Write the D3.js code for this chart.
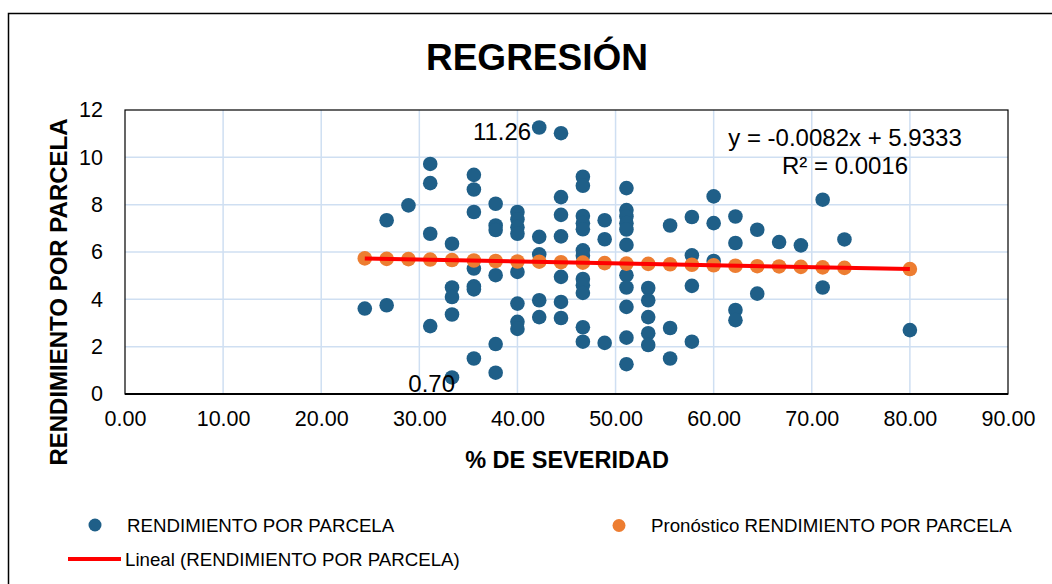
<!DOCTYPE html>
<html>
<head>
<meta charset="utf-8">
<script src="https://cdn.jsdelivr.net/npm/d3@7/dist/d3.min.js"></script>
<style>
  html, body { margin: 0; padding: 0; background: #fff; }
  svg { display: block; font-family: "Liberation Sans", Arial, sans-serif; }
</style>
</head>
<body>
<svg id="chart" width="1052" height="584"></svg>
<script>
// ---- DATA ----
const severity = [24.44, 26.67, 28.89, 31.11, 33.33, 35.56, 37.78, 40.00, 42.22, 44.44, 46.67, 48.89,
                  51.11, 53.33, 55.56, 57.78, 60.00, 62.22, 64.44, 66.67, 68.89, 71.11, 73.33, 80.00];
const yieldByColumn = [
  [3.61],
  [7.34, 3.75],
  [7.97],
  [9.72, 8.91, 6.77, 2.87],
  [6.35, 4.50, 4.10, 3.36, 0.70],
  [9.26, 8.64, 7.69, 5.30, 4.55, 4.42, 1.50],
  [8.04, 7.12, 6.93, 5.02, 2.11, 0.90],
  [7.69, 7.38, 7.05, 6.77, 5.16, 3.82, 3.05, 2.75],
  [11.26, 6.64, 5.90, 3.96, 3.25],
  [11.02, 8.32, 7.57, 6.66, 4.95, 3.89, 3.21],
  [9.18, 8.80, 7.52, 7.22, 6.96, 6.07, 5.84, 4.86, 4.60, 4.27, 2.82, 2.21],
  [7.34, 6.54, 2.16],
  [8.70, 7.77, 7.50, 7.22, 6.95, 6.30, 5.02, 4.50, 3.68, 2.38, 1.26],
  [4.48, 3.96, 3.25, 2.57, 2.07],
  [7.12, 2.79, 1.50],
  [7.48, 5.86, 4.57, 2.21],
  [8.35, 7.22, 5.62],
  [7.50, 6.38, 3.55, 3.12],
  [6.94, 4.24],
  [6.42],
  [6.28],
  [8.21, 4.50],
  [6.53],
  [2.70]
];
const forecast = [5.73, 5.71, 5.70, 5.68, 5.66, 5.64, 5.62, 5.60, 5.59, 5.57, 5.55, 5.53,
                  5.51, 5.50, 5.48, 5.46, 5.44, 5.42, 5.40, 5.39, 5.37, 5.35, 5.33, 5.28];
const trendX = [24.44, 80.00];
const trendY = [5.73, 5.28];
const labeledPoints = [{x: 42.22, y: 11.26, t: "11.26"}, {x: 33.33, y: 0.70, t: "0.70"}];
const xTicks = [0, 10, 20, 30, 40, 50, 60, 70, 80, 90];
const yTicks = [0, 2, 4, 6, 8, 10, 12];
const chartTitle = "REGRESIÓN";
const xTitle = "% DE SEVERIDAD";
const yTitle = "RENDIMIENTO POR PARCELA";
const seriesNames = ["RENDIMIENTO POR PARCELA", "Pronóstico RENDIMIENTO POR PARCELA", "Lineal (RENDIMIENTO POR PARCELA)"];
const equation = ["y = -0.0082x + 5.9333", "R² = 0.0016"];

// ---- DRAW ----
const svg = d3.select("#chart");
const BLUE = "#1f5f88", ORANGE = "#ed7d31", RED = "#ff0000", GRID = "#cfdff2";

const x = d3.scaleLinear().domain([0, 90]).range([125, 1008]);
const y = d3.scaleLinear().domain([0, 12]).range([394, 110]);

// outer chart border
svg.append("rect").attr("x", 8.5).attr("y", 13.5).attr("width", 1100).attr("height", 620)
  .attr("fill", "#fff").attr("stroke", "#000").attr("stroke-width", 1.5);

// title
svg.append("text").attr("x", 537).attr("y", 70).attr("text-anchor", "middle")
  .attr("font-size", 37).attr("font-weight", "bold").attr("fill", "#000").text(chartTitle);

// gridlines
const g = svg.append("g");
g.selectAll(".vg").data(xTicks.slice(1, -1)).join("line")
  .attr("x1", d => x(d)).attr("x2", d => x(d)).attr("y1", y(12)).attr("y2", y(0))
  .attr("stroke", GRID).attr("stroke-width", 1.5);
g.selectAll(".hg").data(yTicks.slice(1, -1)).join("line")
  .attr("x1", x(0)).attr("x2", x(90)).attr("y1", d => y(d)).attr("y2", d => y(d))
  .attr("stroke", GRID).attr("stroke-width", 1.5);

// plot frame
svg.append("rect").attr("x", x(0)).attr("y", y(12)).attr("width", x(90) - x(0)).attr("height", y(0) - y(12))
  .attr("fill", "none").attr("stroke", "#000").attr("stroke-width", 1.2);
svg.append("line").attr("x1", x(0)).attr("x2", x(90)).attr("y1", y(0)).attr("y2", y(0))
  .attr("stroke", "#000").attr("stroke-width", 2);

// axes (tick labels)
const xAxis = d3.axisBottom(x).tickValues(xTicks).tickFormat(d3.format(".2f")).tickSize(0).tickPadding(17);
const xa = svg.append("g").attr("transform", `translate(0,${y(0)})`).call(xAxis);
xa.select(".domain").remove();
xa.selectAll("text").attr("font-size", 21.5).attr("fill", "#000").attr("font-family", "Liberation Sans, Arial, sans-serif");

const yAxis = d3.axisLeft(y).tickValues(yTicks).tickFormat(d3.format("d")).tickSize(0).tickPadding(22);
const ya = svg.append("g").attr("transform", `translate(${x(0)},0)`).call(yAxis);
ya.select(".domain").remove();
ya.selectAll("text").attr("font-size", 21.5).attr("fill", "#000").attr("font-family", "Liberation Sans, Arial, sans-serif");

// axis titles
svg.append("text").attr("x", 567).attr("y", 468).attr("text-anchor", "middle")
  .attr("font-size", 23.5).attr("font-weight", "bold").text(xTitle);
svg.append("text").attr("transform", "translate(67,292) rotate(-90)").attr("text-anchor", "middle")
  .attr("font-size", 24).attr("font-weight", "bold").text(yTitle);

// blue scatter
const pts = [];
severity.forEach((s, i) => yieldByColumn[i].forEach(v => pts.push({x: s, y: v})));
svg.append("g").selectAll("circle").data(pts).join("circle")
  .attr("cx", d => x(d.x)).attr("cy", d => y(d.y)).attr("r", 7.3).attr("fill", BLUE);

// forecast (orange)
svg.append("g").selectAll("circle").data(severity.map((s, i) => ({x: s, y: forecast[i]}))).join("circle")
  .attr("cx", d => x(d.x)).attr("cy", d => y(d.y)).attr("r", 7.3).attr("fill", ORANGE);

// trendline
svg.append("path").datum(trendX.map((t, i) => [t, trendY[i]]))
  .attr("d", d3.line().x(d => x(d[0])).y(d => y(d[1])))
  .attr("stroke", RED).attr("stroke-width", 4).attr("fill", "none");

// data labels
svg.append("text").attr("x", x(labeledPoints[0].x) - 8).attr("y", y(labeledPoints[0].y) + 12)
  .attr("text-anchor", "end").attr("font-size", 24).text(labeledPoints[0].t);
svg.append("text").attr("x", x(labeledPoints[1].x) + 3).attr("y", y(labeledPoints[1].y) + 15)
  .attr("text-anchor", "end").attr("font-size", 24).text(labeledPoints[1].t);

// equation
svg.append("text").attr("x", 845).attr("y", 146).attr("text-anchor", "middle").attr("font-size", 24).text(equation[0]);
svg.append("text").attr("x", 845).attr("y", 174).attr("text-anchor", "middle").attr("font-size", 24).text(equation[1]);

// legend
const lg = svg.append("g").attr("font-size", 18.7);
lg.append("circle").attr("cx", 95).attr("cy", 525).attr("r", 6.5).attr("fill", BLUE);
lg.append("text").attr("x", 127).attr("y", 532).text(seriesNames[0]);
lg.append("circle").attr("cx", 619).attr("cy", 525.5).attr("r", 6.5).attr("fill", ORANGE);
lg.append("text").attr("x", 651).attr("y", 532).text(seriesNames[1]);
lg.append("line").attr("x1", 68).attr("x2", 121).attr("y1", 559).attr("y2", 559)
  .attr("stroke", RED).attr("stroke-width", 4);
lg.append("text").attr("x", 125).attr("y", 566).text(seriesNames[2]);
</script>
</body>
</html>
